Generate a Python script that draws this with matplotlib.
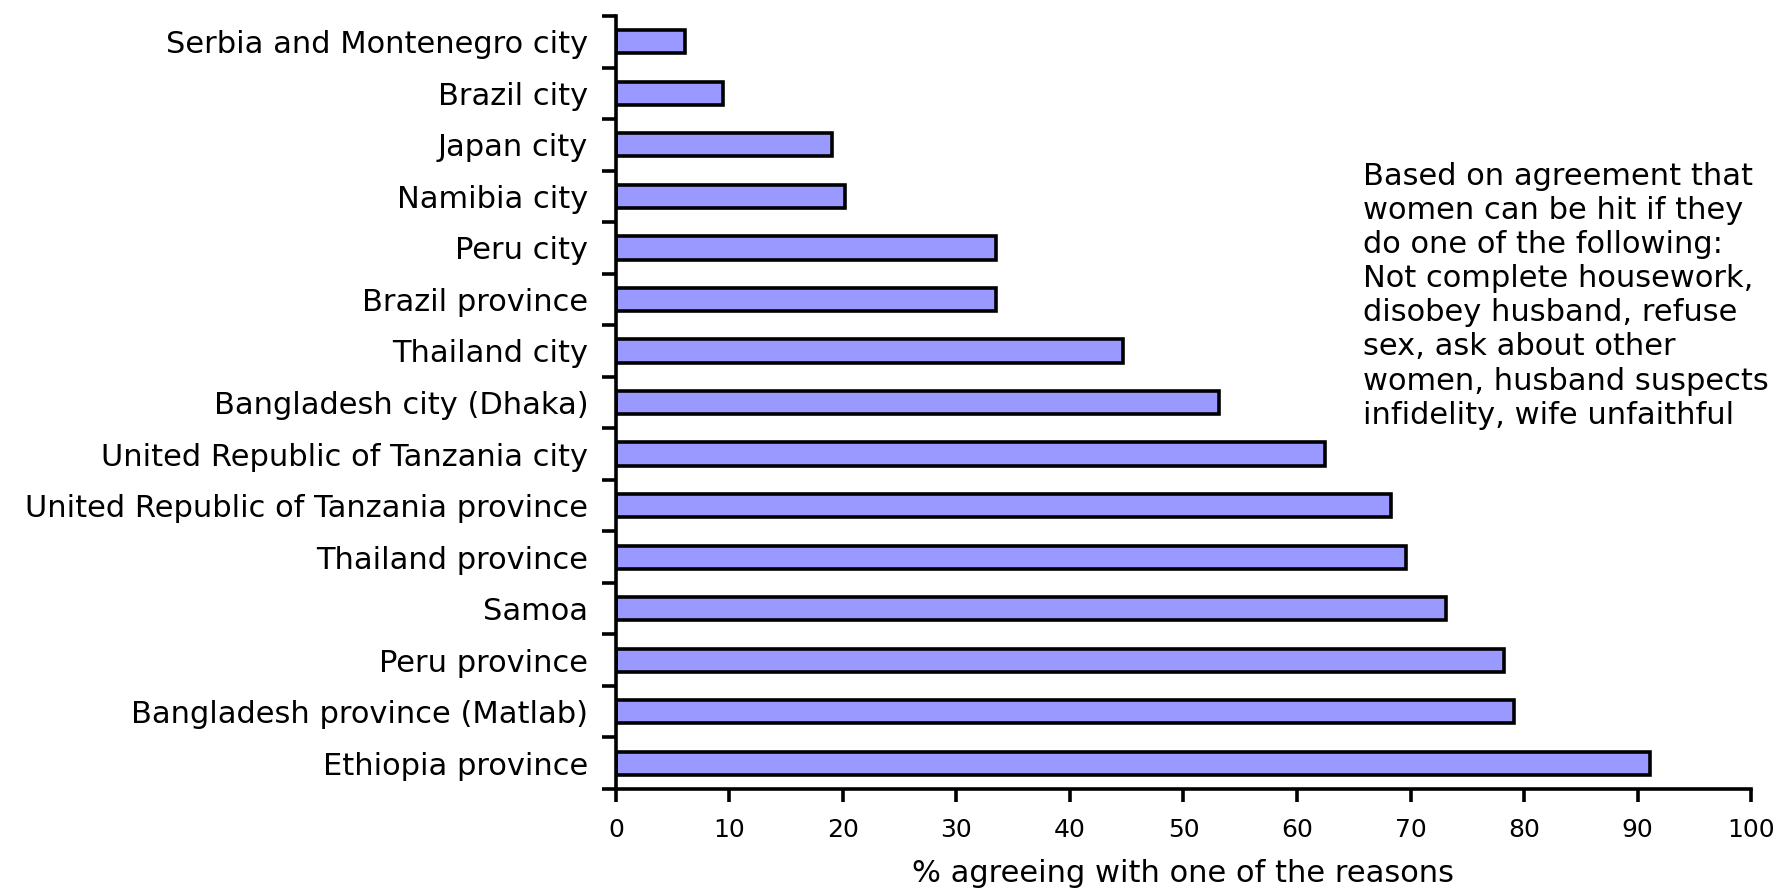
import matplotlib.pyplot as plt
from matplotlib.ticker import FixedLocator, NullLocator

plt.rcParams['font.family'] = ['DejaVu Sans']

# categories top to bottom, share of respondents agreeing (%)
places = [
    "Serbia and Montenegro city",
    "Brazil city",
    "Japan city",
    "Namibia city",
    "Peru city",
    "Brazil province",
    "Thailand city",
    "Bangladesh city (Dhaka)",
    "United Republic of Tanzania city",
    "United Republic of Tanzania province",
    "Thailand province",
    "Samoa",
    "Peru province",
    "Bangladesh province (Matlab)",
    "Ethiopia province",
]
agree_pct = [6.1, 9.4, 19.0, 20.2, 33.5, 33.5, 44.7, 53.1, 62.5,
             68.3, 69.6, 73.1, 78.2, 79.1, 91.1]

note = ("Based on agreement that\n"
        "women can be hit if they\n"
        "do one of the following:\n"
        "Not complete housework,\n"
        "disobey husband, refuse\n"
        "sex, ask about other\n"
        "women, husband suspects\n"
        "infidelity, wife unfaithful")

fig = plt.figure(figsize=(17.75, 8.91), dpi=100)
ax = fig.add_axes([0.347, 0.1145, 0.6395, 0.8675])

ypos = list(range(len(places)))
ax.barh(ypos, agree_pct, height=0.45, color='#9999FF',
        edgecolor='black', linewidth=2.6)

ax.set_xlim(0, 100)
ax.set_ylim(len(places) - 0.5, -0.5)
ax.set_xticks(range(0, 101, 10))

# category labels centred on bars, tick marks between categories
ax.set_yticks(ypos)
ax.set_yticklabels(places)
ax.tick_params(axis='y', which='major', length=0, pad=20, labelsize=22)
ax.yaxis.set_minor_locator(FixedLocator([i - 0.5 for i in range(len(places) + 1)]))
ax.tick_params(axis='y', which='minor', length=10, width=2.6, direction='out')
ax.xaxis.set_minor_locator(NullLocator())
ax.tick_params(axis='x', length=9, width=2.6, direction='out', pad=12, labelsize=18)

for side in ('top', 'right'):
    ax.spines[side].set_visible(False)
for side in ('left', 'bottom'):
    ax.spines[side].set_linewidth(2.6)

ax.set_xlabel("% agreeing with one of the reasons", fontsize=22, labelpad=12)

fig.text(0.768, 0.818, note, fontsize=22, va='top', ha='left', linespacing=1.22)

fig.savefig("out.png", dpi=100)
